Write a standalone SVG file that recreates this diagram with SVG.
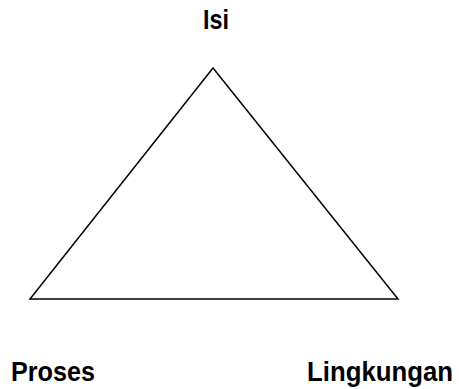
<svg xmlns="http://www.w3.org/2000/svg" width="459" height="389" viewBox="0 0 459 389">
<style>
.lbl{font-family:"Liberation Sans",Arial,sans-serif;font-weight:bold;font-size:27px;fill:#000}
.edge{stroke:#000;stroke-width:1.5;fill:none;stroke-linejoin:miter}
</style>
<rect width="459" height="389" fill="#fff"/>
<g id="connectors">
<polygon class="edge" points="213,68 30,299 398,299"/>
</g>
<g id="isi"><text class="lbl" x="203" y="29" textLength="26" lengthAdjust="spacingAndGlyphs">Isi</text></g>
<g id="proses"><text class="lbl" x="11" y="381" textLength="84" lengthAdjust="spacingAndGlyphs">Proses</text></g>
<g id="lingkungan"><text class="lbl" x="307" y="381" textLength="146" lengthAdjust="spacingAndGlyphs">Lingkungan</text></g>
</svg>
